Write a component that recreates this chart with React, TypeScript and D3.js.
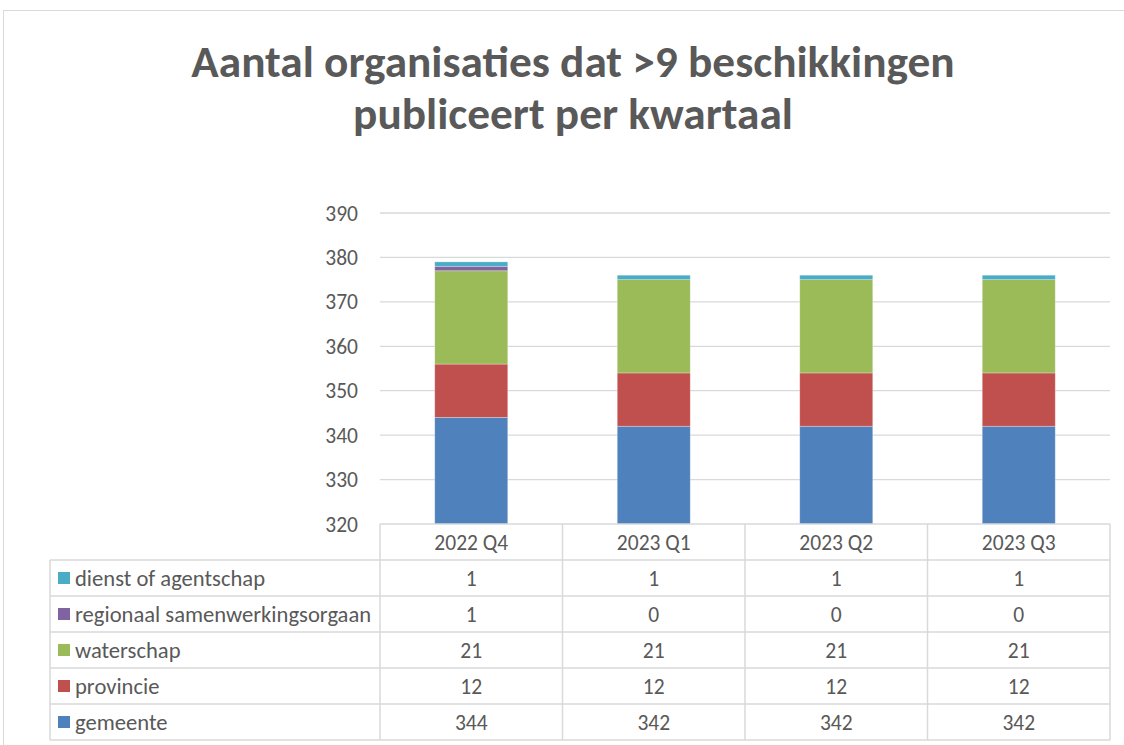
import React from "react";
import * as d3 from "d3";

const categories = ["2022 Q4", "2023 Q1", "2023 Q2", "2023 Q3"];
const seriesNames = ["gemeente", "provincie", "waterschap", "regionaal samenwerkingsorgaan", "dienst of agentschap"];
const gemeente = [344, 342, 342, 342];
const provincie = [12, 12, 12, 12];
const waterschap = [21, 21, 21, 21];
const regionaal = [1, 0, 0, 0];
const dienst = [1, 1, 1, 1];
const seriesColors = ["#4f81bd", "#c0504d", "#9bbb59", "#8064a2", "#4bacc6"];
const yTicks = [320, 330, 340, 350, 360, 370, 380, 390];
const titleLines = ["Aantal organisaties dat >9 beschikkingen", "publiceert per kwartaal"];

const seriesValues = [gemeente, provincie, waterschap, regionaal, dienst];

const W = 1124, H = 745;
const plotL = 380, plotR = 1110, plotT = 213, plotB = 524;
const tableL = 50;
const rowH = 36;
const FONT = "Carlito, Calibri, Lato, 'Open Sans', sans-serif";
const TXT = "#595959";
const GRID = "#d9d9d9";
const FS = 21.5;

export default function App() {
  const x = d3.scaleBand<string>().domain(categories).range([plotL, plotR]).padding(0);
  const y = d3.scaleLinear().domain([320, 390]).range([plotB, plotT]);
  const rows = categories.map((c, i) => {
    const o: any = { cat: c };
    seriesNames.forEach((s, k) => (o[s] = seriesValues[k][i]));
    return o;
  });
  const stacked = d3.stack<any>().keys(seriesNames)(rows);
  const bw = x.bandwidth() * 0.4;
  const tableRows = seriesNames.map((s, k) => ({ name: s, color: seriesColors[k], vals: seriesValues[k] })).reverse();

  return (
    <svg width={W} height={H} style={{ position: "absolute", left: 0, top: 0, background: "#fff" }} fontFamily={FONT}>
      <defs>
        <clipPath id="plotclip">
          <rect x={plotL} y={plotT - 20} width={plotR - plotL} height={plotB - plotT + 20} />
        </clipPath>
      </defs>
      <rect x={3.5} y={10.5} width={W + 10} height={H + 10} fill="#fff" stroke="#d9d9d9" />
      {titleLines.map((t, i) => (
        <text key={i} x={573} y={77 + i * 52} textAnchor="middle" fontSize={45.3} fontWeight="bold" fill={TXT}>
          {t}
        </text>
      ))}
      {yTicks.map((t) => (
        <g key={t}>
          {t !== 320 && <line x1={plotL} x2={plotR} y1={y(t)} y2={y(t)} stroke={GRID} strokeWidth={1.3} />}
          <text x={358} y={y(t)} dy="0.35em" textAnchor="end" fontSize={FS} fill={TXT}>
            {t}
          </text>
        </g>
      ))}
      <g clipPath="url(#plotclip)">
        {stacked.map((layer, k) => (
          <g key={layer.key} fill={seriesColors[k]}>
            {layer.map((d, i) =>
              d[1] - d[0] > 0 ? (
                <rect
                  key={i}
                  x={(x(categories[i]) as number) + (x.bandwidth() - bw) / 2}
                  y={y(d[1])}
                  width={bw}
                  height={y(d[0]) - y(d[1])}
                  stroke="rgba(255,255,255,0.35)"
                  strokeWidth={0.8}
                />
              ) : null
            )}
          </g>
        ))}
      </g>
      {/* data table */}
      <g stroke={GRID} strokeWidth={1.5} fill="none">
        <line x1={plotL} x2={plotR} y1={plotB} y2={plotB} />
        {d3.range(1, 6 + 1).map((r) => (
          <line key={r} x1={tableL} x2={plotR} y1={plotB + r * rowH} y2={plotB + r * rowH} />
        ))}
        <line x1={tableL} x2={tableL} y1={plotB + rowH} y2={plotB + 6 * rowH} />
        {categories.map((c) => (
          <line key={c} x1={x(c) as number} x2={x(c) as number} y1={plotB} y2={plotB + 6 * rowH} />
        ))}
        <line x1={plotR} x2={plotR} y1={plotB} y2={plotB + 6 * rowH} />
      </g>
      {categories.map((c) => (
        <text key={c} x={(x(c) as number) + x.bandwidth() / 2} y={plotB + rowH / 2} dy="0.35em" textAnchor="middle" fontSize={FS} fill={TXT}>
          {c}
        </text>
      ))}
      {tableRows.map((r, j) => {
        const cy = plotB + rowH * (j + 1) + rowH / 2;
        return (
          <g key={r.name}>
            <rect x={58} y={cy - 6} width={12} height={12} fill={r.color} />
            <text x={75} y={cy} dy="0.35em" fontSize={22.6} fill={TXT}>
              {r.name}
            </text>
            {r.vals.map((v, i) => (
              <text key={i} x={(x(categories[i]) as number) + x.bandwidth() / 2} y={cy} dy="0.35em" textAnchor="middle" fontSize={FS} fill={TXT}>
                {v}
              </text>
            ))}
          </g>
        );
      })}
    </svg>
  );
}
